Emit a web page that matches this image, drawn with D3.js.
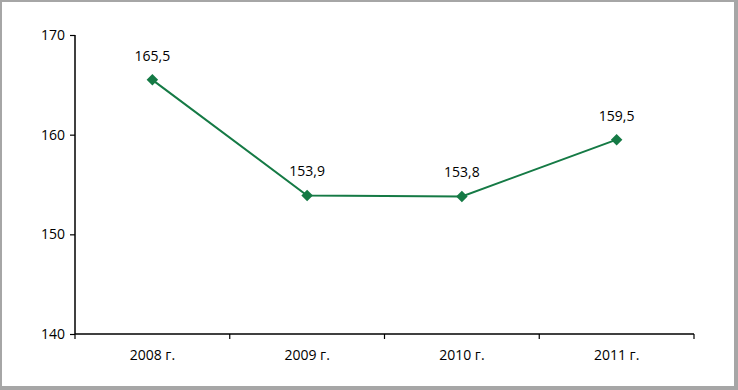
<!DOCTYPE html>
<html><head><meta charset="utf-8">
<script src="https://cdn.jsdelivr.net/npm/d3@7"></script>
<style>
html,body{margin:0;padding:0;background:#fff;}
svg{display:block;}
</style></head>
<body>
<svg id="chart" width="738" height="390"></svg>
<script>
const categories = ["2008 г.", "2009 г.", "2010 г.", "2011 г."];
const values = [165.5, 153.9, 153.8, 159.5];
const valueLabels = ["165,5", "153,9", "153,8", "159,5"];
const yTicks = [140, 150, 160, 170];

const svg = d3.select("#chart");
const W = 738, H = 390;
const m = {left: 75, right: 44, top: 35, bottom: 56};

// frame
svg.append("rect").attr("x", 0).attr("y", 0).attr("width", W).attr("height", H).attr("fill", "#a6a6a6");
svg.append("rect").attr("x", 2).attr("y", 2).attr("width", W - 6).attr("height", H - 6).attr("fill", "#fff");

const x = d3.scaleBand().domain(categories).range([m.left, W - m.right]).paddingInner(0).paddingOuter(0);
const y = d3.scaleLinear().domain([140, 170]).range([H - m.bottom, m.top]);

const font = "'Open Sans', 'Liberation Sans', sans-serif";
const fs = 14;

// y axis
const yAxis = svg.append("g").attr("transform", `translate(${m.left},0)`)
  .call(d3.axisLeft(y).tickValues(yTicks).tickSize(5).tickPadding(5).tickFormat(d3.format("d")));
yAxis.select(".domain").attr("stroke", "#000").attr("stroke-width", 1.5).attr("d", `M0,${y(170)}V${y(140)}`);
yAxis.selectAll(".tick line").attr("stroke", "#000").attr("stroke-width", 1.2);
yAxis.selectAll("text").attr("font-family", font).attr("font-size", fs).attr("fill", "#000");

// x axis
const xAxisG = svg.append("g").attr("transform", `translate(0,${y(140)})`);
xAxisG.append("line").attr("x1", m.left).attr("x2", W - m.right).attr("y1", 0).attr("y2", 0)
  .attr("stroke", "#000").attr("stroke-width", 1.5);
const bounds = categories.map(c => x(c)).concat([x(categories[categories.length - 1]) + x.bandwidth()]);
xAxisG.selectAll("line.tk").data(bounds).join("line").attr("class", "tk")
  .attr("x1", d => d).attr("x2", d => d).attr("y1", 0).attr("y2", 5)
  .attr("stroke", "#000").attr("stroke-width", 1.2);
xAxisG.selectAll("text").data(categories).join("text")
  .attr("x", d => x(d) + x.bandwidth() / 2).attr("y", 26)
  .attr("text-anchor", "middle").attr("font-family", font).attr("font-size", fs).attr("fill", "#000")
  .text(d => d);

// line
const green = "#157a45";
const cx = (d, i) => x(categories[i]) + x.bandwidth() / 2;
const line = d3.line().x((d, i) => cx(d, i)).y(d => y(d));
svg.append("path").datum(values).attr("d", line).attr("fill", "none").attr("stroke", green).attr("stroke-width", 2);

svg.selectAll("path.mk").data(values).join("path").attr("class", "mk")
  .attr("d", d3.symbol().type(d3.symbolDiamond2).size(85))
  .attr("transform", (d, i) => `translate(${cx(d, i)},${y(d)})`)
  .attr("fill", green);

svg.selectAll("text.lbl").data(values).join("text").attr("class", "lbl")
  .attr("x", (d, i) => cx(d, i)).attr("y", d => y(d) - 19)
  .attr("text-anchor", "middle").attr("font-family", font).attr("font-size", fs).attr("fill", "#000")
  .text((d, i) => valueLabels[i]);
</script>
</body></html>
